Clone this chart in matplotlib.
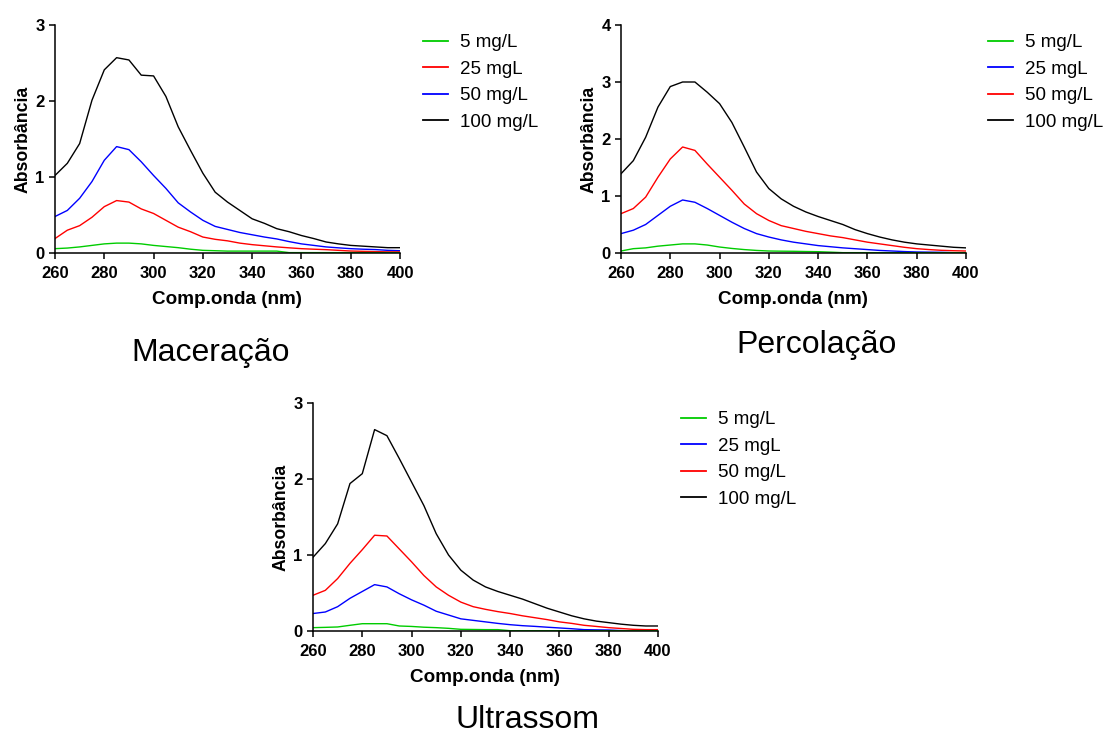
import matplotlib
matplotlib.use("Agg")
import matplotlib.pyplot as plt
from matplotlib.lines import Line2D

plt.rcParams['font.family'] = ['Liberation Sans', 'DejaVu Sans']

# Wavelength grid (nm)
wavelength = list(range(260, 401, 5))

# Maceração
mac_5 = [0.057, 0.065, 0.08, 0.10, 0.12, 0.13, 0.13, 0.12, 0.10, 0.085,
         0.07, 0.05, 0.035, 0.03, 0.025, 0.025, 0.025, 0.025, 0.025, 0.005,
         0.005, 0.005, 0.005, 0.005, 0.005, 0.005, 0.005, 0.005, 0.005]
mac_25 = [0.19, 0.30, 0.36, 0.47, 0.61, 0.69, 0.67, 0.58, 0.52, 0.43,
          0.34, 0.28, 0.21, 0.18, 0.16, 0.13, 0.11, 0.095, 0.08, 0.068,
          0.057, 0.05, 0.044, 0.035, 0.026, 0.022, 0.018, 0.015, 0.015]
mac_50 = [0.48, 0.56, 0.72, 0.94, 1.22, 1.40, 1.36, 1.20, 1.02, 0.85,
          0.66, 0.54, 0.43, 0.35, 0.31, 0.27, 0.24, 0.21, 0.185, 0.15,
          0.12, 0.10, 0.08, 0.068, 0.057, 0.05, 0.045, 0.035, 0.03]
mac_100 = [1.02, 1.18, 1.44, 2.01, 2.41, 2.57, 2.54, 2.34, 2.33, 2.06,
           1.66, 1.35, 1.05, 0.80, 0.67, 0.56, 0.45, 0.39, 0.32, 0.28,
           0.23, 0.19, 0.145, 0.12, 0.10, 0.09, 0.08, 0.07, 0.07]

# Percolação
perc_5 = [0.035, 0.076, 0.09, 0.12, 0.14, 0.16, 0.16, 0.14, 0.105, 0.08,
          0.06, 0.045, 0.035, 0.032, 0.03, 0.026, 0.023, 0.015, 0.006, 0.006,
          0.006, 0.006, 0.006, 0.006, 0.006, 0.006, 0.006, 0.006, 0.006]
perc_25 = [0.34, 0.40, 0.50, 0.66, 0.82, 0.93, 0.89, 0.78, 0.66, 0.54,
           0.43, 0.34, 0.28, 0.23, 0.19, 0.16, 0.13, 0.11, 0.09, 0.075,
           0.06, 0.045, 0.035, 0.025, 0.018, 0.015, 0.012, 0.005, 0.0]
perc_50 = [0.69, 0.78, 0.98, 1.33, 1.65, 1.86, 1.80, 1.56, 1.33, 1.10,
           0.86, 0.69, 0.57, 0.48, 0.43, 0.38, 0.34, 0.30, 0.27, 0.23,
           0.19, 0.16, 0.13, 0.10, 0.076, 0.06, 0.047, 0.04, 0.035]
perc_100 = [1.39, 1.62, 2.03, 2.56, 2.92, 3.00, 3.00, 2.82, 2.62, 2.29,
            1.86, 1.42, 1.13, 0.95, 0.82, 0.72, 0.64, 0.57, 0.50, 0.41,
            0.34, 0.28, 0.23, 0.19, 0.16, 0.14, 0.12, 0.10, 0.09]

# Ultrassom
ultra_5 = [0.044, 0.048, 0.053, 0.075, 0.096, 0.096, 0.096, 0.066, 0.06, 0.05,
           0.044, 0.035, 0.022, 0.02, 0.018, 0.018, 0.004, 0.004, 0.004, 0.004,
           0.004, 0.004, 0.004, 0.004, 0.004, 0.004, 0.004, 0.004, 0.004]
ultra_25 = [0.23, 0.25, 0.32, 0.43, 0.52, 0.61, 0.58, 0.49, 0.41, 0.34,
            0.26, 0.21, 0.16, 0.14, 0.12, 0.10, 0.083, 0.07, 0.061, 0.05,
            0.04, 0.03, 0.018, 0.015, 0.013, 0.006, 0.0, 0.0, 0.0]
ultra_50 = [0.47, 0.535, 0.69, 0.89, 1.07, 1.26, 1.25, 1.08, 0.91, 0.73,
            0.58, 0.47, 0.38, 0.32, 0.285, 0.255, 0.23, 0.20, 0.175, 0.15,
            0.12, 0.10, 0.075, 0.06, 0.044, 0.033, 0.022, 0.018, 0.018]
ultra_100 = [0.97, 1.15, 1.41, 1.94, 2.07, 2.65, 2.57, 2.27, 1.96, 1.65,
             1.28, 1.00, 0.80, 0.67, 0.58, 0.52, 0.47, 0.42, 0.36, 0.30,
             0.25, 0.20, 0.16, 0.13, 0.11, 0.09, 0.075, 0.066, 0.066]

GREEN, RED, BLUE, BLACK = '#00cc00', '#ff0000', '#0000ff', '#000000'

panels = [
    dict(rect=[55, 25, 345, 228], ymax=3,
         series=[(mac_5, GREEN, '5 mg/L'), (mac_25, RED, '25 mgL'),
                 (mac_50, BLUE, '50 mg/L'), (mac_100, BLACK, '100 mg/L')],
         legend_xy=(423, 34), title='Maceração', title_xy=(211, 353)),
    dict(rect=[621, 25, 345, 228], ymax=4,
         series=[(perc_5, GREEN, '5 mg/L'), (perc_25, BLUE, '25 mgL'),
                 (perc_50, RED, '50 mg/L'), (perc_100, BLACK, '100 mg/L')],
         legend_xy=(988, 34), title='Percolação', title_xy=(817, 345)),
    dict(rect=[313, 403, 345, 228], ymax=3,
         series=[(ultra_5, GREEN, '5 mg/L'), (ultra_25, BLUE, '25 mgL'),
                 (ultra_50, RED, '50 mg/L'), (ultra_100, BLACK, '100 mg/L')],
         legend_xy=(681, 411), title='Ultrassom', title_xy=(527, 720)),
]

W, H = 1110, 735
fig = plt.figure(figsize=(W / 100, H / 100), dpi=100)

for p in panels:
    x0, y0, w, h = p['rect']
    ax = fig.add_axes([x0 / W, 1 - (y0 + h) / H, w / W, h / H])
    # draw the highest curve first so lower ones sit on top
    for vals, color, label in reversed(p['series']):
        ax.plot(wavelength, vals, color=color, lw=1.0)
    ax.set_xlim(260, 400)
    ax.set_ylim(0, p['ymax'])
    ax.set_xticks(range(260, 401, 20))
    ax.set_yticks(range(0, p['ymax'] + 1))
    for s in ('top', 'right'):
        ax.spines[s].set_visible(False)
    for s in ('left', 'bottom'):
        ax.spines[s].set_linewidth(1.1)
    ax.tick_params(direction='out', length=4.5, width=1.1, labelsize=12)
    ax.tick_params(axis='x', pad=5)
    ax.tick_params(axis='y', pad=3)
    for lab in ax.get_xticklabels() + ax.get_yticklabels():
        lab.set_fontweight('bold')
    ax.set_xlabel('Comp.onda (nm)', fontsize=13.6, fontweight='bold', labelpad=7)
    ax.set_ylabel('Absorbância', fontsize=12.7, fontweight='bold', labelpad=2.5)

    handles = [Line2D([], [], color=c, lw=1.3) for _, c, _ in p['series']]
    labels = [lab for _, _, lab in p['series']]
    lx, ly = p['legend_xy']
    fig.legend(handles, labels, loc='upper left',
               bbox_to_anchor=(lx / W, 1 - ly / H), frameon=False,
               fontsize=13.5, handlelength=1.33, handletextpad=0.64,
               labelspacing=0.5, borderaxespad=0, borderpad=0)

    tx, ty = p['title_xy']
    fig.text(tx / W, 1 - ty / H, p['title'], fontsize=23,
             ha='center', va='center')

fig.savefig('out.png', dpi=100)
